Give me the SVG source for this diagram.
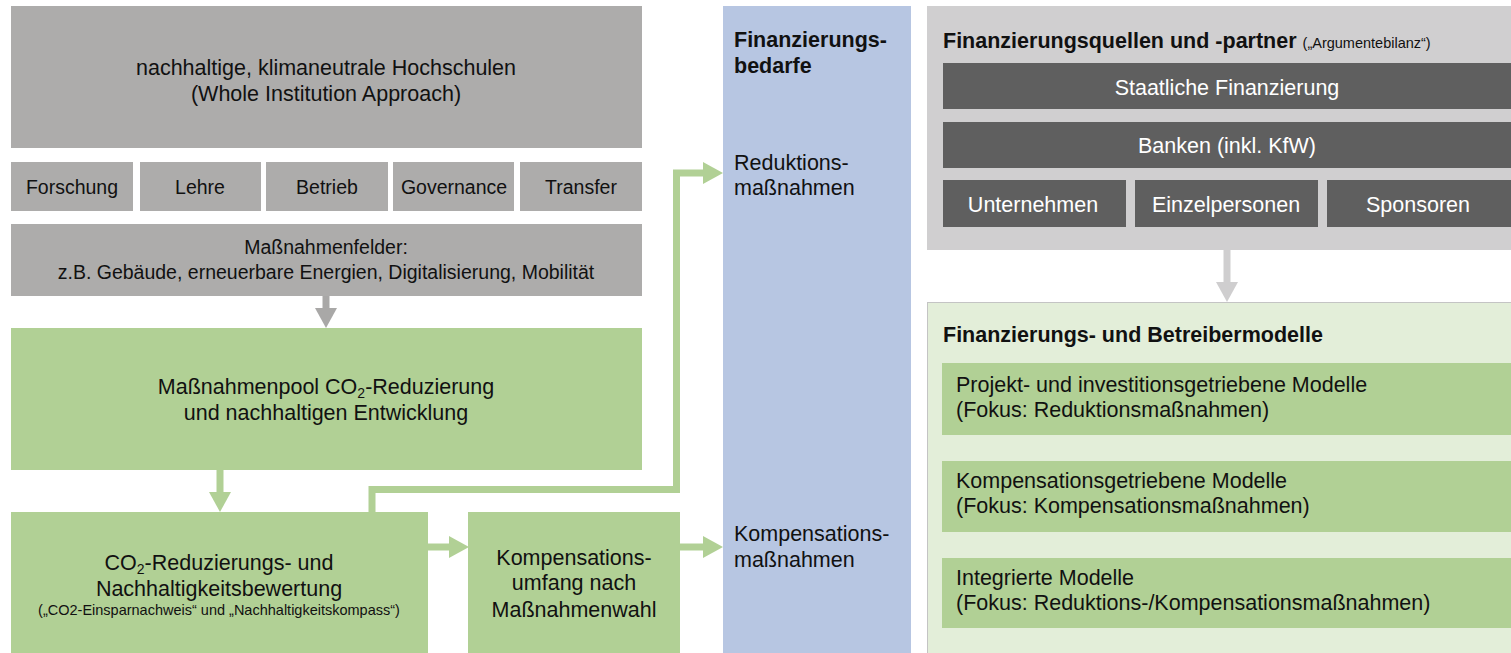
<svg xmlns="http://www.w3.org/2000/svg" width="1511" height="653" viewBox="0 0 1511 653">
<style>
.t{font-family:"Liberation Sans",Arial,sans-serif;font-size:21.5px;fill:#111}
.m{text-anchor:middle}
.b{font-weight:bold}
.s{font-size:19.5px}
.xs{font-size:14.5px}
.w{fill:#fff}
.gray{fill:#adacab}
.green{fill:#b1d095}
.dark{fill:#5f5f5f}
.conn{fill:none;stroke-width:7}
</style>
<defs>
<marker id="ahG" markerUnits="userSpaceOnUse" markerWidth="20" markerHeight="22" refX="0" refY="11" orient="auto"><path d="M0,0 L20,11 L0,22 z" fill="#b1d095"/></marker>
<marker id="ahD" markerUnits="userSpaceOnUse" markerWidth="20" markerHeight="22" refX="0" refY="11" orient="auto"><path d="M0,0 L20,11 L0,22 z" fill="#a9a8a7"/></marker>
<marker id="ahL" markerUnits="userSpaceOnUse" markerWidth="20" markerHeight="22" refX="0" refY="11" orient="auto"><path d="M0,0 L20,11 L0,22 z" fill="#cfcecf"/></marker>
</defs>
<rect width="1511" height="653" fill="#fff"/>

<g id="hochschulen">
<rect class="gray" x="11" y="6" width="631" height="142"/>
<text class="t m" x="326" y="75">nachhaltige, klimaneutrale Hochschulen</text>
<text class="t m" x="326" y="101">(Whole Institution Approach)</text>
</g>
<g id="forschung"><rect class="gray" x="11" y="162" width="122" height="49"/><text class="t m s" x="72" y="194">Forschung</text></g>
<g id="lehre"><rect class="gray" x="140" y="162" width="121" height="49"/><text class="t m s" x="200" y="194">Lehre</text></g>
<g id="betrieb"><rect class="gray" x="266" y="162" width="122" height="49"/><text class="t m s" x="327" y="194">Betrieb</text></g>
<g id="governance"><rect class="gray" x="393" y="162" width="121" height="49"/><text class="t m s" x="454" y="194">Governance</text></g>
<g id="transfer"><rect class="gray" x="520" y="162" width="122" height="49"/><text class="t m s" x="581" y="194">Transfer</text></g>
<g id="massnahmenfelder">
<rect class="gray" x="11" y="224" width="631" height="72"/>
<text class="t m s" x="326" y="254">Maßnahmenfelder:</text>
<text class="t m s" x="326" y="279">z.B. Gebäude, erneuerbare Energien, Digitalisierung, Mobilität</text>
</g>
<g id="massnahmenpool">
<rect class="green" x="11" y="328" width="631" height="142"/>
<text class="t m" x="326" y="394">Maßnahmenpool CO<tspan font-size="14" dy="4">2</tspan><tspan dy="-4">-Reduzierung</tspan></text>
<text class="t m" x="326" y="420">und nachhaltigen Entwicklung</text>
</g>
<g id="bewertung">
<rect class="green" x="11" y="512" width="417" height="141"/>
<text class="t m" x="219" y="570">CO<tspan font-size="14" dy="4">2</tspan><tspan dy="-4">-Reduzierungs- und</tspan></text>
<text class="t m" x="219" y="596">Nachhaltigkeitsbewertung</text>
<text class="t m xs" x="219" y="615">(„CO2-Einsparnachweis“ und „Nachhaltigkeitskompass“)</text>
</g>
<g id="kompensationsumfang">
<rect class="green" x="468" y="512" width="212" height="141"/>
<text class="t m" x="574" y="565">Kompensations-</text>
<text class="t m" x="574" y="590">umfang nach</text>
<text class="t m" x="574" y="617">Maßnahmenwahl</text>
</g>
<g id="finanzierungsbedarfe">
<rect x="723" y="6" width="188" height="647" fill="#b7c6e2"/>
<text class="t b" x="734" y="47">Finanzierungs-</text>
<text class="t b" x="734" y="73">bedarfe</text>
<text class="t" x="734" y="170">Reduktions-</text>
<text class="t" x="734" y="195">maßnahmen</text>
<text class="t" x="734" y="541">Kompensations-</text>
<text class="t" x="734" y="567">maßnahmen</text>
</g>
<g id="finanzierungsquellen">
<rect x="927" y="6" width="584" height="244" fill="#d0cfd0"/>
<text class="t b" x="943" y="48">Finanzierungsquellen und -partner <tspan font-weight="normal" font-size="14.5px">(„Argumentebilanz“)</tspan></text>
</g>
<g id="staatliche"><rect class="dark" x="943" y="63" width="568" height="46"/><text class="t m w" x="1227" y="95">Staatliche Finanzierung</text></g>
<g id="banken"><rect class="dark" x="943" y="122" width="568" height="46"/><text class="t m w" x="1227" y="153">Banken (inkl. KfW)</text></g>
<g id="unternehmen"><rect class="dark" x="943" y="180" width="183" height="47"/><text class="t m w" x="1033" y="212">Unternehmen</text></g>
<g id="einzelpersonen"><rect class="dark" x="1135" y="180" width="183" height="47"/><text class="t m w" x="1226" y="212">Einzelpersonen</text></g>
<g id="sponsoren"><rect class="dark" x="1327" y="180" width="184" height="47"/><text class="t m w" x="1418" y="212">Sponsoren</text></g>
<g id="modelle">
<rect x="927.5" y="302.5" width="590" height="360" fill="#e3eed9" stroke="#c4c4c4" stroke-width="1"/>
<text class="t b" x="943" y="342">Finanzierungs- und Betreibermodelle</text>
</g>
<g id="projektmodelle"><rect class="green" x="942" y="363" width="569" height="72"/><text class="t" x="956" y="392">Projekt- und investitionsgetriebene Modelle</text><text class="t" x="956" y="417">(Fokus: Reduktionsmaßnahmen)</text></g>
<g id="kompensationsmodelle"><rect class="green" x="942" y="461" width="569" height="71"/><text class="t" x="956" y="488">Kompensationsgetriebene Modelle</text><text class="t" x="956" y="513">(Fokus: Kompensationsmaßnahmen)</text></g>
<g id="integriertemodelle"><rect class="green" x="942" y="558" width="569" height="70"/><text class="t" x="956" y="585">Integrierte Modelle</text><text class="t" x="956" y="610">(Fokus: Reduktions-/Kompensationsmaßnahmen)</text></g>

<g id="connectors">
<path class="conn" d="M326,296 V308" stroke="#a9a8a7" marker-end="url(#ahD)"/>
<path class="conn" d="M220,470 V492" stroke="#b1d095" marker-end="url(#ahG)"/>
<path class="conn" d="M428,547 H449" stroke="#b1d095" marker-end="url(#ahG)"/>
<path class="conn" d="M680,547 H703" stroke="#b1d095" marker-end="url(#ahG)"/>
<path class="conn" d="M372,512 V489.5 H676.5 V173 H703" stroke="#b1d095" marker-end="url(#ahG)"/>
<path class="conn" d="M1227,250 V282" stroke="#cfcecf" marker-end="url(#ahL)"/>
</g>
</svg>
